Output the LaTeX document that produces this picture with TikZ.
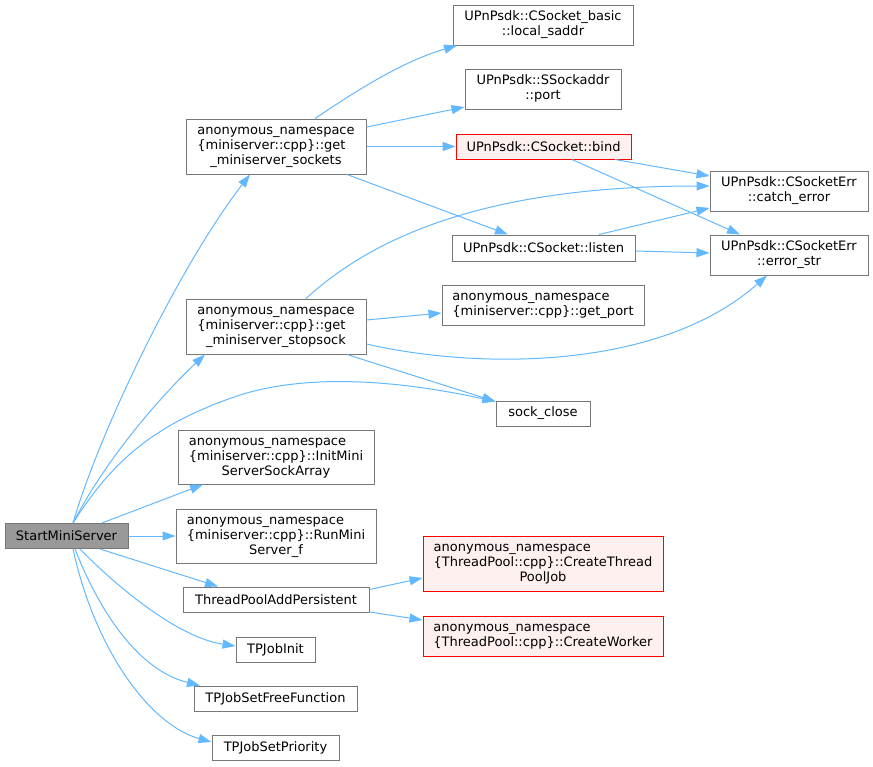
\documentclass[tikz,border=0pt]{standalone}
\usepackage{fontspec}
\setmainfont{DejaVu Sans}
\usetikzlibrary{arrows.meta}
\definecolor{edgeblue}{HTML}{63B8FF}
\definecolor{boxgray}{HTML}{777777}
\definecolor{rootgray}{HTML}{999999}
\definecolor{redfill}{HTML}{FFF0F0}
\newcommand\lbl[2]{\begin{tabular}{@{}l@{}}#1\\\multicolumn{1}{@{}c@{}}{#2}\end{tabular}}
\tikzset{
	fnbox/.style={draw=boxgray, fill=white, line width=1pt, inner sep=0pt, font=\fontsize{13}{15}\selectfont, text=black},
	rootbox/.style={fnbox, fill=rootgray},
	redbox/.style={fnbox, draw=red, fill=redfill},
	call/.style={draw=edgeblue, line width=1pt, -{Triangle[length=13pt,width=9pt]}}
}

\begin{document}
\begin{tikzpicture}[x=1pt, y=-1pt]
		%%%%% START %%%%%
		
		\useasboundingbox (0, 0) rectangle (873, 766);
		
		\node[rootbox, minimum width=123, minimum height=25] (start) at (66.5, 536) {StartMiniServer};
		
		\node[fnbox, minimum width=180, minimum height=55] (sockets) at (276, 146.5) {\lbl{anonymous\_namespace\\\{miniserver::cpp\}::get}{\_miniserver\_sockets}};
		\node[fnbox, minimum width=180, minimum height=55] (stopsock) at (276, 326.5) {\lbl{anonymous\_namespace\\\{miniserver::cpp\}::get}{\_miniserver\_stopsock}};
		\node[fnbox, minimum width=196, minimum height=54] (initarr) at (276, 457) {\lbl{anonymous\_namespace\\\{miniserver::cpp\}::InitMini}{ServerSockArray}};
		\node[fnbox, minimum width=200, minimum height=54] (runf) at (276, 536) {\lbl{anonymous\_namespace\\\{miniserver::cpp\}::RunMini}{Server\_f}};
		\node[fnbox, minimum width=186, minimum height=25] (addpers) at (276, 599.5) {ThreadPoolAddPersistent};
		\node[fnbox, minimum width=79, minimum height=25] (jobinit) at (275.5, 649.5) {TPJobInit};
		\node[fnbox, minimum width=163, minimum height=25] (freefn) at (275.5, 698.5) {TPJobSetFreeFunction};
		\node[fnbox, minimum width=127, minimum height=25] (prio) at (275.5, 747.5) {TPJobSetPriority};
		
		\node[fnbox, minimum width=180, minimum height=40] (saddr) at (543, 25) {\lbl{UPnPsdk::CSocket\_basic}{::local\_saddr}};
		\node[fnbox, minimum width=156, minimum height=40] (port) at (543, 89) {\lbl{UPnPsdk::SSockaddr}{::port}};
		\node[redbox, minimum width=175, minimum height=25] (bind) at (543.5, 146.5) {UPnPsdk::CSocket::bind};
		\node[fnbox, minimum width=183, minimum height=26] (listen) at (543.5, 248) {UPnPsdk::CSocket::listen};
		\node[fnbox, minimum width=202, minimum height=40] (getport) at (543, 305) {\lbl{anonymous\_namespace}{\{miniserver::cpp\}::get\_port}};
		\node[fnbox, minimum width=94, minimum height=25] (sockclose) at (543, 413.5) {sock\_close};
		\node[redbox, minimum width=240, minimum height=55] (threadjob) at (543, 563.5) {\lbl{anonymous\_namespace\\\{ThreadPool::cpp\}::CreateThread}{PoolJob}};
		\node[redbox, minimum width=240, minimum height=40] (worker) at (543, 636) {\lbl{anonymous\_namespace}{\{ThreadPool::cpp\}::CreateWorker}};
		
		\node[fnbox, minimum width=158, minimum height=40] (catcherr) at (789, 191) {\lbl{UPnPsdk::CSocketErr}{::catch\_error}};
		\node[fnbox, minimum width=158, minimum height=40] (errstr) at (789, 255) {\lbl{UPnPsdk::CSocketErr}{::error\_str}};
		
		% calls of StartMiniServer
		\draw[call] ([xshift=6.5pt]start.north) .. controls (100, 430) and (180, 265) .. ([xshift=-26pt]sockets.south);
		\draw[call] ([xshift=6.5pt]start.north) .. controls (108, 455) and (165, 392) .. ([xshift=-71pt]stopsock.south);
		\draw[call] ([xshift=6.5pt]start.north) .. controls (110, 465) and (150, 425) .. (240, 395) .. controls (320, 370) and (420, 385) .. ([yshift=-1pt]sockclose.north west);
		\draw[call] ([xshift=35.5pt]start.north) -- ([xshift=-73pt]initarr.south);
		\draw[call] (start) -- (runf);
		\draw[call] ([xshift=33.5pt]start.south) -- ([xshift=-58pt]addpers.north);
		\draw[call] ([xshift=13.5pt]start.south) .. controls (120, 590) and (180, 638) .. ([yshift=3.5pt]jobinit.west);
		\draw[call] ([xshift=8.5pt]start.south) .. controls (105, 625) and (145, 672) .. ([xshift=-75.5pt]freefn.north);
		\draw[call] ([xshift=6.5pt]start.south) .. controls (95, 650) and (150, 725) .. ([yshift=5.5pt]prio.west);
		
		% calls of get_miniserver_sockets
		\draw[call] ([xshift=39pt]sockets.north) .. controls (350, 95) and (400, 62) .. ([xshift=-86pt]saddr.south);
		\draw[call] ([yshift=19.5pt]sockets.east) -- ([yshift=-18pt]port.west);
		\draw[call] (sockets) -- (bind);
		\draw[call] ([xshift=71pt]sockets.south) -- ([xshift=-35.5pt]listen.north);
		
		% calls of bind and listen
		\draw[call] ([xshift=71.5pt]bind.south) -- ([yshift=15pt]catcherr.west);
		\draw[call] ([xshift=28.5pt]bind.south) -- ([xshift=-49pt]errstr.north);
		\draw[call] ([xshift=55.5pt]listen.north) -- ([yshift=-17pt]catcherr.west);
		\draw[call] ([yshift=-3pt]listen.east) -- ([yshift=2pt]errstr.west);
		
		% calls of get_miniserver_stopsock
		\draw[call] ([xshift=30pt]stopsock.north) .. controls (370, 240) and (480, 186) .. ([yshift=5pt]catcherr.west);
		\draw[call] ([yshift=6.5pt]stopsock.east) -- ([yshift=-8pt]getport.west);
		\draw[call] ([yshift=-17.5pt]stopsock.east) .. controls (480, 370) and (660, 370) .. ([xshift=-22pt]errstr.south);
		\draw[call] ([xshift=71pt]stopsock.south) -- ([yshift=-1pt]sockclose.north west);
		
		% calls of ThreadPoolAddPersistent
		\draw[call] ([yshift=10pt]addpers.east) -- ([yshift=-14.5pt]threadjob.west);
		\draw[call] ([yshift=-12.5pt]addpers.east) -- ([yshift=16pt]worker.west);
		
		%%%%% END %%%%%
	\end{tikzpicture}
\end{document}
